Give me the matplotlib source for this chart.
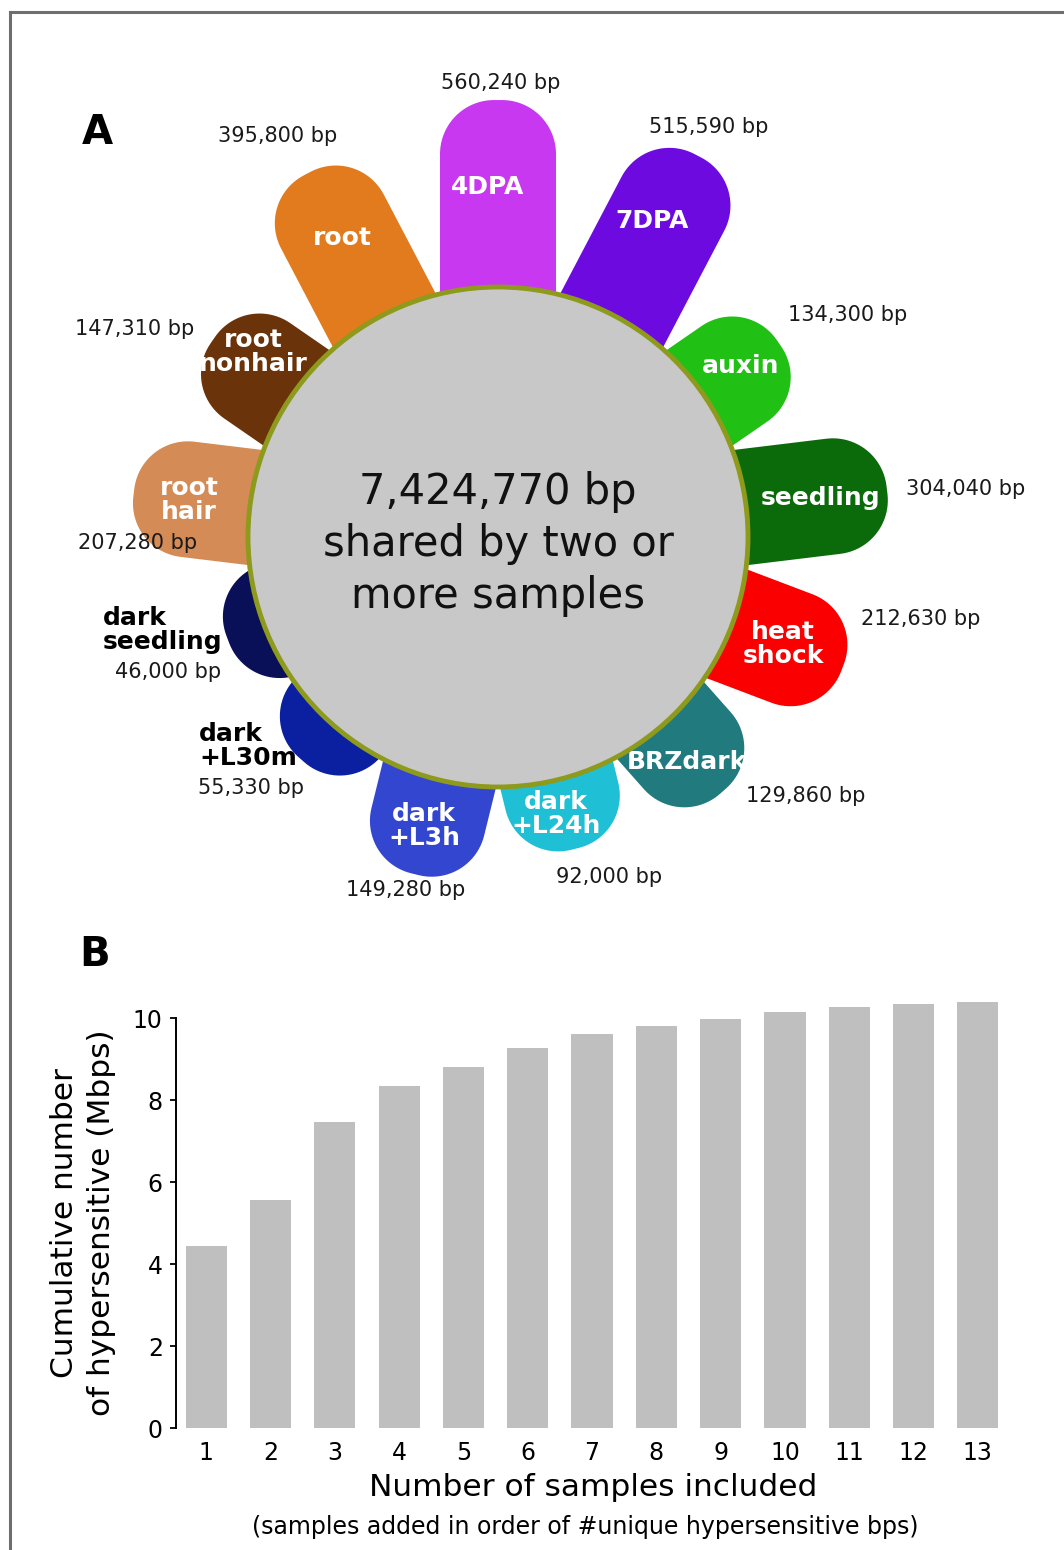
import matplotlib
matplotlib.use('Agg')  # render straight to PNG
import matplotlib.pyplot as plt
import numpy as np
from matplotlib.patches import Polygon, Circle
from matplotlib.transforms import Affine2D

# ---- data -------------------------------------------------------------
# panel A: unique hypersensitive bp per sample, clockwise from the top
samples = ['4DPA', '7DPA', 'auxin', 'seedling', 'heat\nshock', 'BRZdark',
           'dark\n+L24h', 'dark\n+L3h', 'dark\n+L30m', 'dark\nseedling',
           'root\nhair', 'root\nnonhair', 'root']
unique_bp = [560240, 515590, 134300, 304040, 212630, 129860,
             92000, 149280, 55330, 46000, 207280, 147310, 395800]
shared_bp = 7424770

# panel B: cumulative hypersensitive Mbps
n_samples = list(range(1, 14))
cumulative_mbp = [4.44, 5.57, 7.47, 8.33, 8.80, 9.27, 9.61,
                  9.80, 9.98, 10.15, 10.27, 10.34, 10.39]

# ---- styles / layout --------------------------------------------------
petal_colors = ['#c838f0', '#6c0ae0', '#20c015', '#0b6b0b', '#fa0000', '#217a7d',
                '#1fc0d6', '#3346d0', '#0b20a0', '#0a1058', '#d48b55', '#6b330a',
                '#e27b1d']
# sample names drawn outside their petal (in black)
outside_names = {'dark\n+L30m', 'dark\nseedling'}

center = (498, 537)
r_circle = 250
petal_w = 116
petal_round = 54
petal_base, petal_scale = 118.5, 11.64   # petal length = base + scale * bp**0.25

name_pos = [(488, 187), (652, 221), (741, 366), (821, 498), (783, 644), (687, 762),
            (556, 814), (424, 826), (199, 746), (103, 630), (189, 500), (253, 352),
            (342, 238)]
bp_pos = [(501, 83), (709, 127), (848, 315), (966, 489), (921, 619), (806, 796),
          (609, 877), (406, 890), (198, 788), (168, 672), (138, 543), (135, 329),
          (278, 136)]


def petal_outline(length, width, r, steps=24):
    """Bar along +x from the origin with rounded outer corners."""
    t1 = np.linspace(-np.pi / 2, 0, steps)
    t2 = np.linspace(0, np.pi / 2, steps)
    lower = np.column_stack([length - r + r * np.cos(t1), -width / 2 + r + r * np.sin(t1)])
    upper = np.column_stack([length - r + r * np.cos(t2), width / 2 - r + r * np.sin(t2)])
    return np.vstack([[0, -width / 2], lower, upper, [0, width / 2]])


W, H = 1064, 1550
fig = plt.figure(figsize=(W / 100, H / 100), dpi=100)

# pixel-space axes for panel A and decorations
axA = fig.add_axes([0, 0, 1, 1])
axA.set_xlim(0, W)
axA.set_ylim(H, 0)
axA.axis('off')

# grey frame (top and left visible)
axA.plot([10, W + 5], [12, 12], color='#6e6e6e', lw=2.2, solid_capstyle='projecting')
axA.plot([10, 10], [12, H + 5], color='#6e6e6e', lw=2.2, solid_capstyle='projecting')

n = len(samples)
for i, (name, bp, color) in enumerate(zip(samples, unique_bp, petal_colors)):
    ang = 90 - i * 360 / n
    length = petal_base + petal_scale * bp ** 0.25
    petal = Polygon(petal_outline(length, petal_w, petal_round), closed=True,
                    fc=color, ec='none', zorder=1)
    petal.set_transform(Affine2D().rotate_deg(-ang).translate(*center) + axA.transData)
    axA.add_patch(petal)

    nx, ny = name_pos[i]
    if name in outside_names:
        axA.text(nx, ny, name, color='black', fontsize=18, fontweight='bold',
                 ha='left', va='center', linespacing=1.0, zorder=5)
    else:
        axA.text(nx, ny, name, color='white', fontsize=18, fontweight='bold',
                 ha='center', va='center', multialignment='center',
                 linespacing=1.0, zorder=2)
    bx, by = bp_pos[i]
    ha = 'left' if name == 'dark\n+L30m' else 'center'
    axA.text(bx, by, f"{bp:,} bp", fontsize=15, ha=ha, va='center',
             color='#1a1a1a', zorder=5)

axA.add_patch(Circle(center, r_circle, fc='#c8c8c8', ec='#8d9a1c', lw=3.5, zorder=3))
axA.text(center[0], center[1] + 7, f"{shared_bp:,} bp\nshared by two or\nmore samples",
         fontsize=30, ha='center', va='center', linespacing=1.3, color='#111111', zorder=5)

axA.text(97, 133, 'A', fontsize=29, fontweight='bold', ha='center', va='center')
axA.text(95, 955, 'B', fontsize=29, fontweight='bold', ha='center', va='center')

# ---- panel B: bar chart -----------------------------------------------
axB = fig.add_axes([176 / W, (H - 1428) / H, 834 / W, 430.5 / H])
axB.patch.set_alpha(0)
axB.bar(n_samples, cumulative_mbp, width=0.64, color='#bfbfbf')
axB.set_xlim(0.53, 13.5)
axB.set_ylim(0, 10.5)
axB.set_xticks(n_samples)
axB.set_yticks(range(0, 11, 2))
for s in ['top', 'right', 'bottom']:
    axB.spines[s].set_visible(False)
axB.spines['left'].set_bounds(0, 10)
axB.spines['left'].set_linewidth(1.4)
axB.tick_params(axis='x', length=0, pad=9, labelsize=17)
axB.tick_params(axis='y', length=4.5, width=1.3, pad=5, labelsize=17)
axB.set_ylabel("Cumulative number\nof hypersensitive (Mbps)", fontsize=22.5,
               linespacing=1.35)
# centre the y label on the 0-10 spine rather than the full axes
axB.yaxis.set_label_coords((116 - 176) / 834, 5 / 10.5)
axB.set_xlabel("Number of samples included", fontsize=22.5, labelpad=6)
axA.text(585, 1527, "(samples added in order of #unique hypersensitive bps)",
         fontsize=17, ha='center', va='center')

fig.savefig('out.png', dpi=100)
plt.close(fig)
